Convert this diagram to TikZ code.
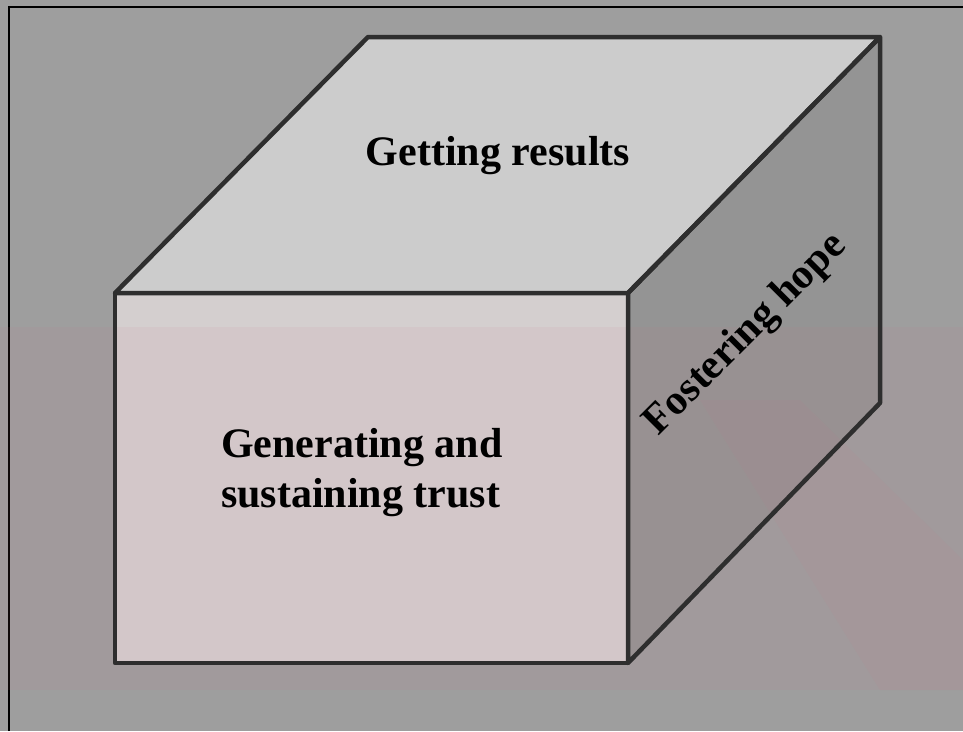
\documentclass[tikz,border=0pt]{standalone}
\usepackage{fontspec}
\setmainfont{Liberation Serif}
\definecolor{bggray}{gray}{0.62}
\definecolor{topgray}{gray}{0.80}
\definecolor{frontgray}{rgb}{0.83,0.81,0.81}
\definecolor{sidegray}{gray}{0.58}
\definecolor{edgegray}{gray}{0.18}
\definecolor{tint}{rgb}{0.80,0.45,0.52}
\tikzset{
  face/.style={draw=edgegray, line width=4.5pt, line join=round},
  facelabel/.style={font=\bfseries\fontsize{42}{50}\selectfont, text=black, inner sep=0pt},
  frameline/.style={draw=black, line width=2pt}
}
\begin{document}
\begin{tikzpicture}[x=1pt, y=-1pt]
  \useasboundingbox (0,0) rectangle (963,731);
  % background panel
  \fill[bggray] (0,0) rectangle (963,731);
  \draw[frameline] (9,731) -- (9,7) -- (963,7);

  % cube corners
  \coordinate (ftl) at (115,293);
  \coordinate (ftr) at (628,293);
  \coordinate (fbr) at (628,663);
  \coordinate (fbl) at (115,663);
  \coordinate (btl) at (368,37);
  \coordinate (btr) at (880,37);
  \coordinate (bbr) at (880,403);

  % face fills
  \fill[topgray] (ftl) -- (btl) -- (btr) -- (ftr) -- cycle;
  \fill[frontgray] (ftl) -- (ftr) -- (fbr) -- (fbl) -- cycle;
  \fill[sidegray] (ftr) -- (btr) -- (bbr) -- (fbr) -- cycle;

  % faint tinted band across the lower half
  \fill[tint, opacity=0.08] (0,327) rectangle (963,690);
  \fill[tint, opacity=0.07] (700,400) -- (800,400) -- (963,560) -- (963,690) -- (880,690) -- cycle;

  % cube edges
  \draw[face] (ftl) -- (btl) -- (btr) -- (ftr) -- cycle;
  \draw[face] (ftl) -- (ftr) -- (fbr) -- (fbl) -- cycle;
  \draw[face] (ftr) -- (btr) -- (bbr) -- (fbr) -- cycle;

  % face labels
  \node[facelabel, anchor=base] (top) at (498,165) {Getting results};
  \node[facelabel, anchor=base west] (front1) at (221,457) {Generating and};
  \node[facelabel, anchor=base west] (front2) at (221,507) {sustaining trust};
  \node[facelabel, anchor=base, rotate=45] (side) at (753,342) {Fostering hope};
\end{tikzpicture}
\end{document}
